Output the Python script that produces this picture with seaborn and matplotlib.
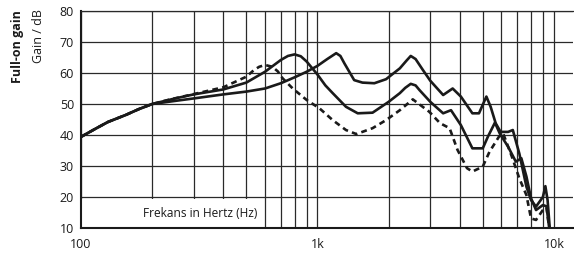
import numpy as np
import pandas as pd
import matplotlib
matplotlib.use("Agg")
import matplotlib.pyplot as plt
from matplotlib.patches import Rectangle
import seaborn as sns


# gain curves (Hz, dB)

freq_a = [100, 115, 130, 155, 175, 200, 250, 300, 400, 500, 600, 700, 750, 800, 850, 900,
          1000, 1080, 1160, 1320, 1480, 1710, 2000, 2230, 2350, 2480, 2600, 2700, 3000,
          3400, 3670, 4040, 4520, 5000, 5260, 5630, 5900, 6400, 6900, 7280, 7650, 8000,
          8400, 8980, 9300, 9550]
gain_a = [39.4, 42, 44.2, 46.5, 48.3, 50, 51.8, 53.1, 54.7, 56.9, 60.4, 64.2, 65.5, 66, 65.4, 63.7,
          59.5, 56, 53.5, 49.1, 47, 47.2, 50.7, 53.5, 55.2, 56.5, 56, 54.5, 50.7,
          47, 48, 43.2, 35.7, 35.7, 39.5, 44, 40.5, 36.2, 31.4, 32.5, 26.6, 19.6,
          15.8, 17.4, 17, 10]

freq_b = [100, 115, 130, 155, 175, 200, 250, 300, 400, 500, 600, 700, 800, 900, 1000, 1100,
          1200, 1250, 1300, 1430, 1550, 1740, 1950, 2230, 2380, 2480, 2600, 2790, 3000,
          3400, 3730, 4040, 4520, 4820, 5180, 5400, 5670, 5950, 6400, 6700, 7140, 7650,
          8000, 8400, 8980, 9200, 9400, 9600]
gain_b = [39.4, 42, 44.2, 46.5, 48.3, 50, 51, 51.8, 53.1, 54, 55, 56.7, 58.6, 60.4, 62.3, 64.5,
          66.4, 65.5, 63.1, 57.7, 56.9, 56.7, 58, 61.5, 64, 65.5, 64.5, 61, 57.5,
          52.9, 55, 52.4, 47, 47, 52.4, 49.1, 43.8, 41, 41, 41.6, 34, 23.3,
          19, 16.9, 20, 23.5, 19, 10]

freq_c = [100, 115, 130, 155, 175, 200, 236, 300, 400, 500, 540, 567, 600, 645, 680, 712,
          786, 900, 1020, 1160, 1320, 1460, 1710, 1950, 2230, 2530, 2970, 3300, 3620, 3910,
          4290, 4520, 5000, 5340, 5860, 6100, 6640, 7140, 7650, 8000, 8400, 8980, 9300, 9550]
gain_c = [39.4, 42, 44.2, 46.5, 48.3, 50, 51.4, 53.2, 55.4, 58.8, 61, 62, 62.6, 62, 60.5, 58.3,
          55, 51.3, 48.6, 44.8, 41.6, 40.3, 42.2, 44.8, 48, 51.5, 47.5, 43.8, 42.2, 35.2,
          29.3, 28.2, 29.8, 34.6, 39.5, 40.5, 33, 26, 20.6, 13.1, 12.6, 15.8, 16.7, 10]

x_ticks = [100, 1000, 10000]
x_tick_labels = ['100', '1k', '10k']
y_ticks = [10, 20, 30, 40, 50, 60, 70, 80]


sns.set_style('white')
plt.rcParams['font.family'] = ['Open Sans', 'DejaVu Sans']

fig = plt.figure(figsize=(5.74, 2.56), dpi=100)
ax = fig.add_axes([81 / 574, 28 / 256, 492 / 574, 217 / 256])

ink = '#1a1a1a'
kw = dict(ax=ax, color=ink, lw=1.9, sort=False, estimator=None,
          solid_joinstyle='round', dash_joinstyle='round')

sns.lineplot(x=freq_a, y=gain_a, **kw)
sns.lineplot(x=freq_b, y=gain_b, **kw)
sns.lineplot(x=freq_c, y=gain_c, linestyle=(0, (2.2, 1.6)), **kw)

ax.set_xscale('log')
ax.set_xlim(100, 12040)
ax.set_ylim(10, 80)

ax.set_xticks(x_ticks)
ax.set_xticklabels(x_tick_labels)
ax.set_yticks(y_ticks)
ax.xaxis.set_minor_locator(matplotlib.ticker.LogLocator(base=10, subs=np.arange(2, 10)))
ax.xaxis.set_minor_formatter(matplotlib.ticker.NullFormatter())

ax.grid(True, which='both', color='#2a2a2a', lw=0.9)
ax.set_axisbelow(True)
ax.tick_params(axis='x', which='major', length=4, width=0.9, color=ink, labelsize=9, pad=3,
               labelcolor=ink)
ax.tick_params(axis='x', which='minor', length=0)
ax.tick_params(axis='y', length=0, labelsize=9, pad=5, labelcolor=ink)

for s in ('left', 'bottom'):
    ax.spines[s].set_color(ink)
    ax.spines[s].set_linewidth(1.5)
ax.spines['top'].set_color('#2a2a2a')
ax.spines['top'].set_linewidth(0.9)
ax.spines['right'].set_visible(False)

# white box behind the axis caption
ax.add_patch(Rectangle((100, 10.3), 480, 9.2, facecolor='white', edgecolor='none', zorder=1))
ax.text(319, 14.8, 'Frekans in Hertz (Hz)', ha='center', va='center', fontsize=8.6,
        color=ink, zorder=3)

fig.text(18 / 574, 1 - 47 / 256, 'Full-on gain', rotation=90, ha='center', va='center',
         fontsize=9, fontweight='bold', color=ink)
fig.text(39 / 574, 1 - 36 / 256, 'Gain / dB', rotation=90, ha='center', va='center',
         fontsize=9, color=ink)

fig.savefig('out.png', dpi=100)
